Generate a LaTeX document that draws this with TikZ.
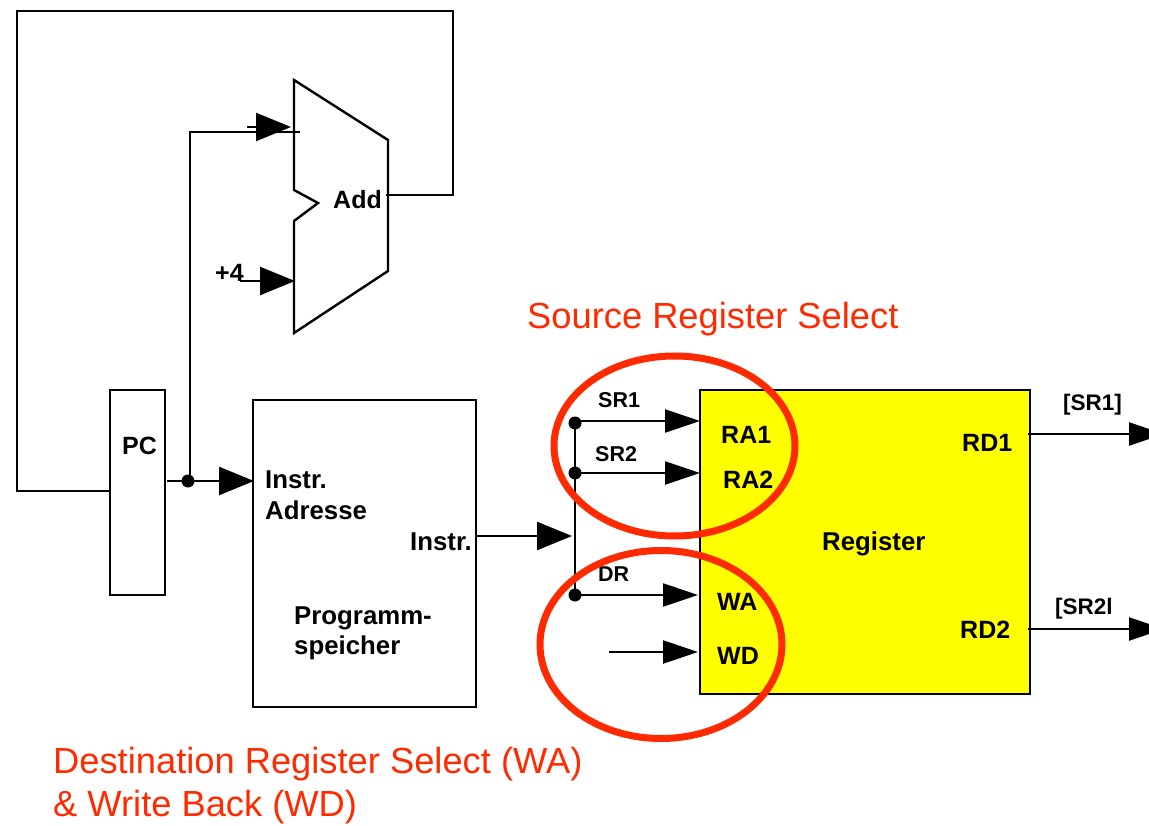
\documentclass[tikz,border=0pt]{standalone}
\usepackage{fontspec}
\setmainfont{Liberation Sans}
\usetikzlibrary{arrows.meta}
\definecolor{redmark}{HTML}{FF2A00}
\definecolor{regyellow}{RGB}{255,255,0}
\tikzset{
  x=1pt,y=-1pt,
  wire/.style={line width=2.4pt,black,line join=miter},
  bighead/.style={wire,-{Triangle[length=35pt,width=28pt]}},
  smallhead/.style={wire,-{Triangle[length=35pt,width=23pt]}},
  box/.style={draw=black,line width=2.4pt,inner sep=0pt,outer sep=0pt,anchor=north west},
  lab/.style={anchor=base west,inner sep=0pt,font=\bfseries\fontsize{25}{25}\selectfont},
  wide/.style={anchor=base west,inner sep=0pt,font=\bfseries\fontsize{25.8}{26}\selectfont},
  small/.style={anchor=base west,inner sep=0pt,font=\bfseries\fontsize{21.5}{22}\selectfont},
  outlab/.style={anchor=base west,inner sep=0pt,font=\bfseries\fontsize{22.5}{23}\selectfont},
  redtext/.style={anchor=base west,inner sep=0pt,text=redmark,font=\fontsize{36.3}{36}\selectfont},
  ring/.style={draw=redmark,line width=7pt},
  joint/.style={circle,fill=black,minimum size=13pt,inner sep=0pt}
}
\begin{document}
\begin{tikzpicture}
\useasboundingbox (0,0) rectangle (1149,826);
\clip (0,0) rectangle (1149,826);
% boxes
\node[box,minimum width=330pt,minimum height=304pt,fill=regyellow] (reg) at (700,390) {};
\node[box,minimum width=55pt,minimum height=205pt] (pc) at (110,390) {};
\node[box,minimum width=223pt,minimum height=307pt] (mem) at (253,400) {};
% adder
\draw[wire] (294,80) coordinate (addtop) -- (388,140) -- (388,271) -- (294,333) -- (294,221) -- (318,203) -- (294,190) -- cycle;
% coordinates
\coordinate (pcleft) at (110,491);
\coordinate (c1) at (17,491);
\coordinate (c2) at (17,11);
\coordinate (c3) at (453,11);
\coordinate (c4) at (453,195);
\coordinate (addout) at (386,195);
\coordinate (pcout) at (167,481);
\coordinate (memin) at (254,481);
\coordinate (c5) at (190,132);
\coordinate (addin) at (300,132);
\coordinate (stubA) at (247,127);
\coordinate (tipA) at (291,127);
\coordinate (stubB) at (240,281);
\coordinate (tipB) at (295,281);
\coordinate (memout) at (477,536);
\coordinate (bustip) at (572,536);
\coordinate (wdfree) at (609,652);
\coordinate (wdin) at (698,652);
\coordinate (wain) at (698,595);
\coordinate (ra1in) at (700,421);
\coordinate (ra2in) at (700,473);
\coordinate (rd1out) at (1028,434);
\coordinate (rd2out) at (1028,629);
\coordinate (rd1end) at (1164,434);
\coordinate (rd2end) at (1164,629);
\node[joint] (j0) at (188,481) {};
\node[joint] (j1) at (575,423) {};
\node[joint] (j2) at (575,473) {};
\node[joint] (j3) at (575,595) {};
% wires
\draw[wire] (pcleft) -- (c1) -- (c2) -- (c3) -- (c4) -- (addout);
\draw[bighead] (pcout) -- (memin);
\draw[wire] (j0.center) ++(2,0) |- (addin);
\draw[bighead] (stubA) -- (tipA);
\draw[bighead] (stubB) -- (tipB);
\draw[bighead] (memout) -- (bustip);
\draw[wire] (j1.center) -- (j3.center);
\draw[smallhead] (j1.center) ++(0,-2) -- (ra1in);
\draw[smallhead] (j2.center) -- (ra2in);
\draw[smallhead] (j3.center) -- (wain);
\draw[smallhead] (wdfree) -- (wdin);
\draw[smallhead] (rd1out) -- (rd1end);
\draw[smallhead] (rd2out) -- (rd2end);
% labels
\node[lab] (tpc) at (122,454) {PC};
\node[lab] (tadd) at (333,209) {Add};
\node[lab] (tfour) at (215,282) {+4};
\node[wide] (tin1) at (265,488) {Instr.};
\node[wide] (tin2) at (265,519) {Adresse};
\node[wide] (tout) at (410,550) {Instr.};
\node[wide] (tp1) at (294,624) {Programm-};
\node[wide] (tp2) at (294,654) {speicher};
\node[wide] (treg) at (822,550) {Register};
\node[lab] (ra1) at (721,443) {RA1};
\node[lab] (ra2) at (723,488) {RA2};
\node[lab] (wa) at (717,610) {WA};
\node[lab] (wd) at (717,664) {WD};
\node[lab] (rd1) at (962,451) {RD1};
\node[lab] (rd2) at (960,638) {RD2};
\node[small] (sr1) at (598,407) {SR1};
\node[small] (sr2) at (595,461) {SR2};
\node[small] (dr) at (598,581) {DR};
\node[outlab] (osr1) at (1063,410) {[SR1]};
\node[outlab] (osr2) at (1055,614) {[SR2l};
% rings
\draw[ring] (674.5,446) ellipse [x radius=120.5,y radius=90];
\draw[ring] (661,644.5) ellipse [x radius=121,y radius=94];
% red text
\node[redtext] (rt1) at (527,329) {Source Register Select};
\node[redtext] (rt2) at (53,773) {Destination Register Select (WA)};
\node[redtext] (rt3) at (53,816) {\& Write Back (WD)};
\end{tikzpicture}
\end{document}
